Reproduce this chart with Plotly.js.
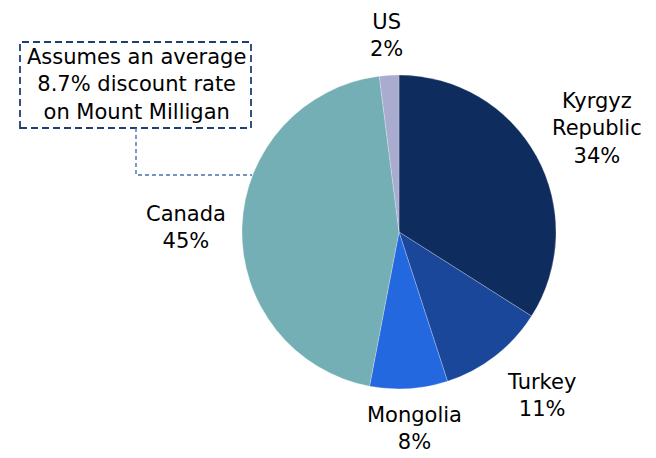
<!DOCTYPE html>
<html><head><meta charset="utf-8">
<script src="https://cdn.plot.ly/plotly-3.0.1.min.js"></script>
<style>html,body{margin:0;padding:0;background:#fff}</style>
</head><body><div id="chart" style="width:656px;height:458px"></div>
<script>
const regions = ["Kyrgyz Republic", "Turkey", "Mongolia", "Canada", "US"];
const labelText = ["Kyrgyz<br>Republic", "Turkey", "Mongolia", "Canada", "US"];
const shares = [34, 11, 8, 45, 2];
const colors = ["#0f2c5e", "#1a4799", "#2468e0", "#74afb6", "#a9acce"];
const noteText = "Assumes an average<br>8.7% discount rate<br>on Mount Milligan";

const W = 656, H = 458;
const px = x => x / W, py = y => 1 - y / H;
const F = {family: "DejaVu Sans, Verdana, sans-serif", size: 21, color: "#000"};

// label anchor points (pixel centers)
const labelPos = [[597, 129], [541, 395], [415, 428], [186, 227], [386, 36]];
const annotations = regions.map((r, i) => ({
  xref: "paper", yref: "paper", x: px(labelPos[i][0]), y: py(labelPos[i][1]),
  text: labelText[i] + "<br>" + shares[i] + "%", showarrow: false,
  xanchor: "center", yanchor: "middle", font: F, align: "center"
}));
annotations.push({
  xref: "paper", yref: "paper", x: px(136), y: py(85), text: noteText,
  showarrow: false, xanchor: "center", yanchor: "middle", font: F, align: "center"
});

const data = [{
  type: "pie", labels: regions, values: shares, sort: false,
  direction: "clockwise", rotation: 0, textinfo: "none", hoverinfo: "label+percent",
  marker: {colors: colors, line: {color: "rgba(255,255,255,0.4)", width: 0.6}},
  domain: {x: [px(399 - 157), px(399 + 157)], y: [py(232 + 157), py(232 - 157)]}
}];

const layout = {
  width: W, height: H, margin: {l: 0, r: 0, t: 0, b: 0},
  paper_bgcolor: "#fff", showlegend: false,
  annotations: annotations,
  shapes: [
    {type: "rect", xref: "paper", yref: "paper", x0: px(20), x1: px(251), y0: py(128), y1: py(42),
     line: {color: "#1f3f73", width: 1.8, dash: "7px,4px"}},
    {type: "path", xref: "paper", yref: "paper",
     path: `M ${px(136)} ${py(128)} L ${px(136)} ${py(175)} L ${px(252)} ${py(175)}`,
     line: {color: "#4a6fb0", width: 1.4, dash: "4px,3px"}}
  ]
};
Plotly.newPlot("chart", data, layout, {displayModeBar: false, staticPlot: true});
</script></body></html>
